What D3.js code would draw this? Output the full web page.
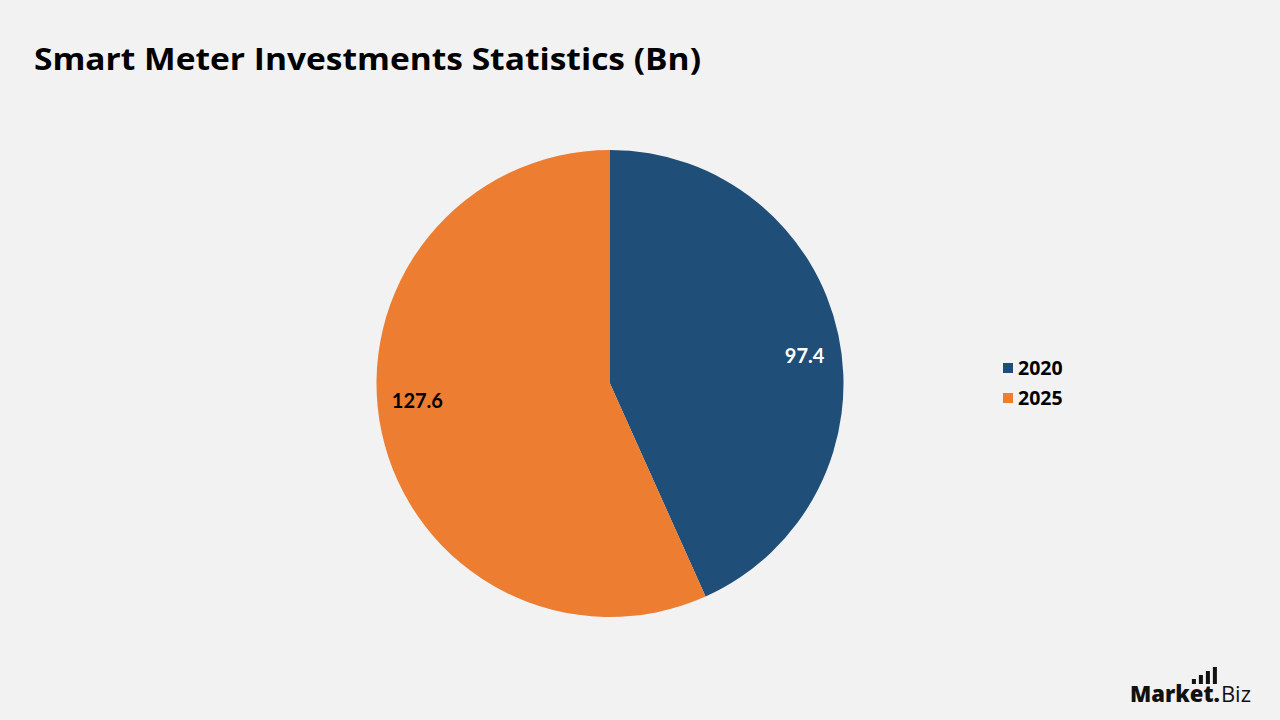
<!DOCTYPE html>
<html>
<head>
<meta charset="utf-8">
<script src="https://cdn.jsdelivr.net/npm/d3@7"></script>
<style>
  body { margin: 0; background: #f2f2f2; }
  svg { display: block; }
</style>
</head>
<body>
<div id="chart"></div>
<script>
// chart data
const years = ["2020", "2025"];
const values = [97.4, 127.6];
const colors = ["#1f4e79", "#ed7d31"];
const labelColors = ["#ffffff", "#000000"];

const width = 1280, height = 720;
const cx = 610, cy = 383.5, radius = 233.5;

const svg = d3.select("#chart")
  .append("svg")
  .attr("width", width)
  .attr("height", height);

svg.append("rect")
  .attr("width", width)
  .attr("height", height)
  .attr("fill", "#f2f2f2");

// title
svg.append("text")
  .attr("x", 34)
  .attr("y", 70)
  .attr("font-family", "'Open Sans', sans-serif")
  .attr("font-weight", 700)
  .attr("font-size", 30)
  .attr("textLength", 667)
  .attr("lengthAdjust", "spacingAndGlyphs")
  .attr("fill", "#000")
  .text("Smart Meter Investments Statistics (Bn)");

const data = years.map((y, i) => ({ year: y, value: values[i], i: i }));

const pie = d3.pie().value(d => d.value).sort(null);
const arc = d3.arc().innerRadius(0).outerRadius(radius);
const labelArc = d3.arc().innerRadius(198).outerRadius(198);

const g = svg.append("g").attr("transform", `translate(${cx},${cy})`);

const arcs = pie(data);

g.selectAll("path")
  .data(arcs)
  .enter()
  .append("path")
  .attr("d", arc)
  .attr("fill", d => colors[d.data.i]);

// data labels, pulled toward the horizontal like excel's inside-end
g.selectAll(".lbl")
  .data(arcs)
  .enter()
  .append("text")
  .attr("class", "lbl")
  .attr("x", d => labelArc.centroid(d)[0] + 1)
  .attr("y", d => labelArc.centroid(d)[1] * 0.55 - 5)
  .attr("dy", "0.35em")
  .attr("text-anchor", "middle")
  .attr("font-family", "Lato, 'Open Sans', sans-serif")
  .attr("font-weight", 700)
  .attr("font-size", 20)
  .attr("fill", d => labelColors[d.data.i])
  .text(d => d.data.value.toFixed(1));

// legend
const legend = svg.append("g").attr("transform", "translate(1003,368)");
const item = legend.selectAll("g")
  .data(data)
  .enter()
  .append("g")
  .attr("transform", (d, i) => `translate(0,${i * 30})`);

item.append("rect")
  .attr("x", 0)
  .attr("y", -5)
  .attr("width", 10)
  .attr("height", 10)
  .attr("fill", d => colors[d.i]);

item.append("text")
  .attr("x", 15)
  .attr("dy", "0.35em")
  .attr("font-family", "'Open Sans', sans-serif")
  .attr("font-weight", 700)
  .attr("font-size", 19.5)
  .attr("fill", "#000")
  .text(d => d.year);

// logo
const logo = svg.append("g").attr("transform", "translate(1130,702)");
const mk = logo.append("text")
  .attr("x", 0)
  .attr("y", 0)
  .attr("font-family", "'Open Sans', sans-serif")
  .attr("font-weight", 800)
  .attr("font-size", 22)
  .attr("fill", "#111")
  .text("Market.");
const mkW = mk.node().getComputedTextLength();
logo.append("text")
  .attr("x", mkW + 1)
  .attr("y", 0)
  .attr("font-family", "'Open Sans', sans-serif")
  .attr("font-weight", 400)
  .attr("font-size", 22)
  .attr("fill", "#111")
  .text("Biz");
[0, 1, 2, 3].forEach(i => {
  const h = 5 + i * 4;
  logo.append("rect")
    .attr("x", mkW - 28 + i * 7)
    .attr("y", -18 - h)
    .attr("width", 4)
    .attr("height", h)
    .attr("fill", "#111");
});
</script>
</body>
</html>
